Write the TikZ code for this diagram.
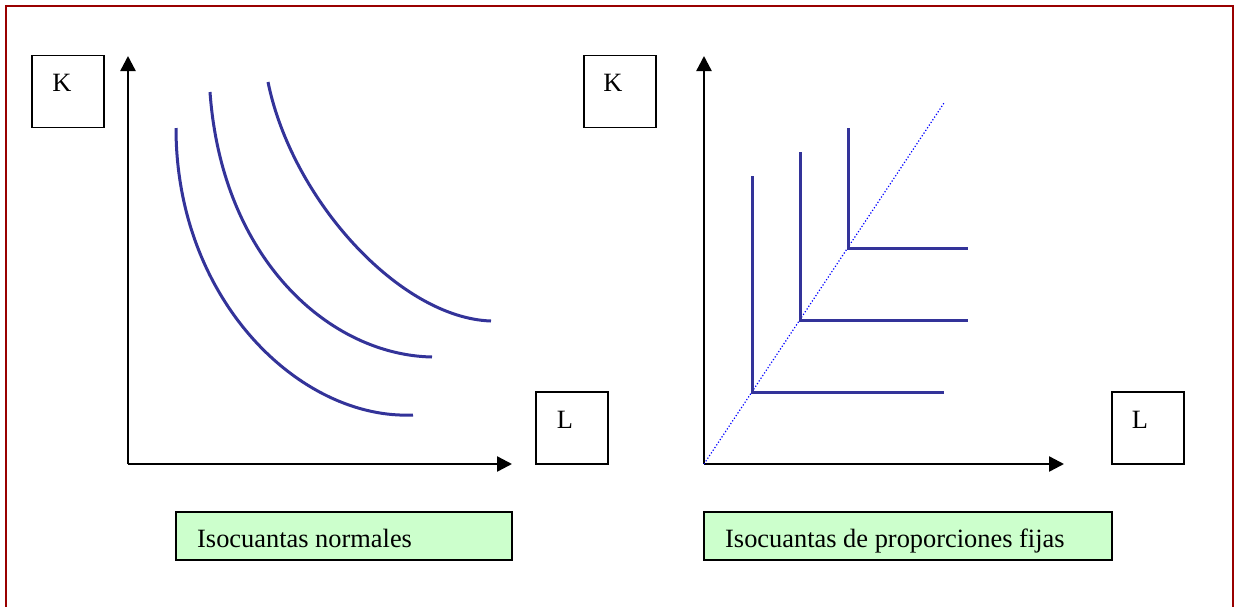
\documentclass[tikz,border=0pt]{standalone}
\usepackage{fontspec}
\setmainfont{Liberation Serif}
\usepackage{tikz}
\usetikzlibrary{arrows.meta}
\definecolor{framered}{HTML}{990000}
\definecolor{isoblue}{HTML}{333399}
\definecolor{captiongreen}{HTML}{CCFFCC}

\begin{document}
\begin{tikzpicture}[
    x=1pt, y=-1pt,
    labelbox/.style={draw, line width=1.8pt, minimum width=72pt, minimum height=72pt, inner sep=0pt},
    captionbox/.style={draw, line width=1.8pt, fill=captiongreen, minimum height=48pt, inner sep=0pt},
    labeltext/.style={font=\fontsize{26.4}{30}\selectfont, inner sep=0pt},
    axis/.style={line width=2.4pt, -{Triangle[length=15pt,width=15pt]}},
    iso/.style={isoblue, line width=3pt},
    ray/.style={blue, line width=1.2pt, dotted}
]
\useasboundingbox (0,0) rectangle (1235,606);

% frame
\draw[framered, line width=2pt] (6,610) -- (6,6) -- (1233,6) -- (1233,610);

% left panel: boxes
\node[labelbox] (kl) at (68,91.5) {};
\node[labeltext] (kltext) at (62,83) {K};
\node[labelbox] (ll) at (572,428) {};
\node[labeltext] (lltext) at (565,420) {L};
\node[captionbox, minimum width=336pt] (capl) at (344,536) {};
\node[labeltext, anchor=base west] (capltext) at (197,547) {Isocuantas normales};

% left panel: axes
\coordinate (ol) at (128,464);
\coordinate (kltip) at (128,56);
\coordinate (lltip) at (512,464);
\draw[axis] (ol) -- (kltip);
\draw[axis] (ol) -- (lltip);

% left panel: isoquants
\draw[iso] (176,128) .. controls (176,300) and (300,420) .. (413,415);
\draw[iso] (210,92) .. controls (222,260) and (330,355) .. (432,357);
\draw[iso] (268,82) .. controls (292,200) and (400,318) .. (491,321);

% right panel: boxes
\node[labelbox] (kr) at (620,91.5) {};
\node[labeltext] (krtext) at (613,83) {K};
\node[labelbox] (lr) at (1148,428) {};
\node[labeltext] (lrtext) at (1140,420) {L};
\node[captionbox, minimum width=408pt] (capr) at (908,536) {};
\node[labeltext, anchor=base west] (caprtext) at (725,547) {Isocuantas de proporciones fijas};

% right panel: axes
\coordinate (or) at (704,464);
\coordinate (krtip) at (704,56);
\coordinate (lrtip) at (1064,464);
\draw[axis] (or) -- (krtip);
\draw[axis] (or) -- (lrtip);

% right panel: expansion ray
\coordinate (raytop) at (944,103);
\draw[ray] (or) -- (raytop);

% right panel: fixed proportions isoquants
\coordinate (c1) at (752,392);
\coordinate (c2) at (800,320);
\coordinate (c3) at (848,248);
\draw[iso] (752,176) -- (c1) -- (944,392);
\draw[iso] (800,152) -- (c2) -- (968,320);
\draw[iso] (848,128) -- (c3) -- (968,248);

\end{tikzpicture}
\end{document}
